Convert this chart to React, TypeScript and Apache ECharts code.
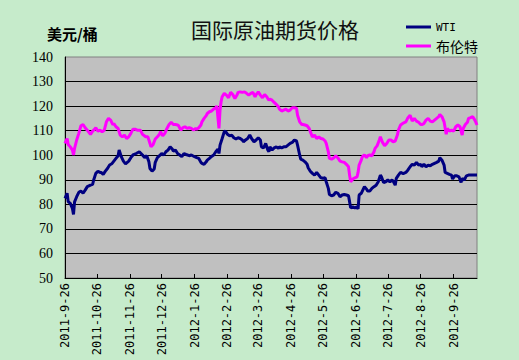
import React, { useEffect, useRef } from "react";
import * as echarts from "echarts";

// Axis: one category per calendar day starting 2011-9-26 (389 days, to 2012-10-18)
const startDate = [2011, 9, 26];
const dayCount = 389;
const tickLabels = [
  "2011-9-26", "2011-10-26", "2011-11-26", "2011-12-26", "2012-1-26", "2012-2-26",
  "2012-3-26", "2012-4-26", "2012-5-26", "2012-6-26", "2012-7-26", "2012-8-26", "2012-9-26",
];
const yMin = 50;
const yMax = 140;
const yStep = 10;

// WTI: day offset from 2011-9-26, price (USD/bbl)
const wtiDays = [
  0, 2, 3, 5, 7, 8, 9, 11, 13, 15, 17, 19, 21, 24, 26, 27, 29, 31, 33, 34, 36, 38, 40, 42, 44, 46, 48, 50, 51, 53, 55, 57, 60, 62, 64,
  67, 70, 73, 75, 77, 79, 80, 82, 84, 85, 87, 89, 91, 93, 95, 97, 99, 101, 102, 104, 106, 108, 110, 112, 114, 117, 119, 122, 124, 126, 128,
  129, 131, 133, 134, 136, 138, 140, 142, 144, 145, 146, 148, 150, 151, 153, 155, 157, 159, 161, 163, 165, 167, 168, 170, 172, 174, 176, 178, 180, 182, 184, 185, 187, 189, 191, 192,
  193, 195, 197, 199, 201, 202, 204, 206, 208, 210, 212, 214, 216, 218, 219, 221, 222, 224, 226, 228, 229, 231, 233, 235, 237, 239, 241, 243, 245, 246, 248, 249, 251, 253, 255, 257,
  259, 261, 263, 265, 267, 268, 269, 271, 273, 275, 276, 277, 279, 280, 282, 284, 285, 287, 289, 291, 293, 295, 297, 298, 300, 302, 304, 306, 308, 309, 311, 312, 314, 316, 318, 319, 321,
  323, 325, 327, 329, 331, 333, 335, 336, 338, 340, 342, 344, 346, 348, 350, 352, 353, 355, 357, 358, 360, 362, 364, 365, 367, 369, 371, 373, 374, 376, 378, 380, 382, 384, 388,
];
const wtiPrices = [
  82.4, 84.5, 81.1, 80.4, 78.3, 75.9, 81.0, 83.1, 84.9, 85.4, 84.5, 85.8, 87.2, 87.8, 88.1, 89.9, 92.6, 93.5, 93.0, 93.0, 92.2, 93.5, 94.6, 96.0, 96.5, 97.6, 98.7, 99.8, 102.1, 99.4, 97.6, 96.5, 97.6, 99.0, 100.1,
  100.7, 101.4, 100.1, 99.0, 99.8, 97.3, 94.6, 93.5, 94.4, 97.1, 99.0, 99.8, 100.7, 100.1, 101.4, 102.1, 103.4, 102.5, 101.7, 102.1, 100.7, 100.1, 99.4, 100.7, 100.3, 99.8, 100.1, 99.4, 99.0, 98.7, 97.1,
  96.7, 96.3, 97.3, 98.0, 98.7, 99.5, 100.1, 101.4, 102.5, 100.7, 104.1, 106.8, 109.6, 109.8, 108.5, 107.9, 108.2, 107.1, 106.6, 107.1, 106.8, 106.2, 105.5, 106.2, 106.8, 108.2, 106.6, 105.5, 106.2, 107.1, 106.2, 103.4, 103.0, 104.8, 102.1, 101.4,
  103.4, 102.1, 103.0, 103.4, 102.8, 103.4, 103.0, 103.4, 103.4, 104.1, 104.8, 105.2, 106.2, 105.8, 104.1, 100.1, 98.4, 98.0, 97.3, 96.3, 94.9, 93.5, 92.6, 91.9, 93.0, 91.9, 90.8, 90.6, 90.8, 89.2, 86.5, 84.0, 83.5, 83.8, 84.9, 84.5,
  83.1, 83.8, 84.0, 83.8, 83.5, 81.1, 78.6, 79.0, 78.6, 79.0, 78.1, 83.8, 84.5, 85.4, 87.2, 86.2, 85.4, 85.4, 86.5, 87.2, 87.8, 89.2, 91.9, 91.2, 88.9, 89.2, 89.9, 89.2, 89.9, 89.5, 87.8, 90.6, 91.9, 93.0, 92.6, 92.6, 93.0,
  94.0, 95.3, 96.3, 96.0, 97.1, 96.0, 96.3, 95.3, 96.3, 95.3, 96.0, 95.7, 96.3, 96.7, 97.1, 97.6, 99.0, 98.0, 96.0, 93.0, 92.6, 92.2, 91.9, 90.3, 91.6, 91.6, 91.2, 88.9, 90.6, 89.9, 91.6, 91.9, 91.9, 91.9, 91.9,
];

// Brent: day offset from 2011-9-26, price (USD/bbl)
const brentDays = [
  0, 2, 3, 5, 7, 8, 9, 11, 13, 15, 17, 19, 21, 22, 24, 26, 28, 29, 31, 33, 35, 37, 39, 41, 43, 45, 46, 48, 50, 52, 54, 56, 58, 60, 62, 64,
  66, 68, 71, 73, 76, 78, 79, 81, 83, 85, 87, 89, 90, 92, 94, 96, 98, 100, 102, 104, 106, 107, 109, 111, 113, 115, 117, 119, 121, 123, 124, 126, 128,
  129, 131, 133, 134, 136, 138, 140, 142, 143, 145, 146, 147, 148, 150, 152, 154, 156, 158, 160, 162, 163, 165, 167, 169, 171, 173, 175, 177, 179, 180, 182, 184, 186, 188, 190, 192,
  193, 195, 197, 199, 201, 202, 204, 206, 208, 210, 212, 214, 216, 218, 219, 221, 223, 224, 226, 228, 230, 231, 233, 235, 237, 239, 241, 243, 245, 246, 248, 249, 251, 253, 255, 257,
  259, 261, 263, 265, 267, 268, 269, 271, 273, 275, 276, 277, 279, 280, 282, 284, 285, 287, 289, 291, 292, 294, 296, 297, 299, 301, 303, 305, 307, 309, 311, 313, 314, 316, 318, 320,
  321, 323, 325, 327, 329, 331, 333, 335, 336, 338, 340, 342, 344, 346, 348, 350, 352, 353, 355, 357, 359, 360, 362, 364, 366, 368, 370, 372, 374, 375, 377, 379, 380, 382, 384, 386, 388,
];
const brentPrices = [
  104.8, 106.8, 104.4, 103.4, 102.1, 100.1, 102.8, 106.2, 108.9, 112.0, 112.5, 111.2, 110.2, 109.6, 108.5, 109.8, 110.6, 111.2, 109.8, 110.2, 109.6, 110.2, 113.6, 115.0, 114.3, 112.5, 112.9, 111.6, 110.9, 108.2, 107.5, 108.2, 106.8, 107.5, 108.9, 110.6,
  110.6, 110.2, 110.2, 108.5, 107.5, 107.5, 106.2, 103.4, 104.4, 106.6, 107.5, 108.5, 109.6, 107.9, 108.9, 110.9, 112.5, 113.4, 112.5, 112.5, 112.3, 112.0, 110.2, 111.2, 111.6, 110.9, 111.2, 110.9, 110.2, 110.9, 110.6, 111.2, 112.3,
  113.6, 115.0, 116.1, 117.0, 117.7, 118.0, 118.8, 119.3, 120.1, 110.9, 118.4, 121.8, 123.8, 125.2, 124.5, 123.4, 125.6, 124.7, 123.1, 124.5, 125.6, 125.8, 125.6, 125.8, 125.2, 124.5, 125.2, 125.6, 123.8, 124.7, 125.8, 124.5, 123.4, 124.7, 123.8, 122.4,
  122.8, 122.4, 121.5, 120.7, 119.7, 118.8, 118.0, 118.4, 118.8, 118.0, 118.4, 119.3, 119.3, 119.1, 116.3, 113.6, 112.5, 112.5, 112.3, 112.0, 110.9, 109.6, 107.5, 108.2, 106.8, 107.5, 106.8, 106.6, 105.8, 104.8, 101.4, 98.7, 98.4, 98.9, 99.8, 98.9,
  97.6, 97.3, 97.1, 96.3, 95.3, 91.9, 89.2, 90.3, 90.8, 91.2, 93.0, 96.0, 98.0, 99.4, 100.1, 99.0, 99.8, 100.1, 99.8, 101.4, 102.8, 103.9, 106.2, 107.5, 105.2, 103.9, 104.8, 106.2, 106.2, 105.5, 105.8, 108.2, 110.2, 112.3, 112.9, 113.4,
  113.6, 115.3, 116.3, 113.9, 115.0, 113.9, 113.4, 112.5, 112.5, 112.9, 114.3, 115.0, 113.9, 113.6, 114.3, 115.0, 115.7, 116.6, 115.7, 113.6, 108.5, 110.9, 109.8, 110.2, 109.8, 111.6, 112.3, 111.6, 108.2, 110.9, 112.5, 113.4, 115.0, 115.3, 115.7, 114.3, 112.3,
];

const seriesNames = ["WTI", "布伦特"];
const titleText = "国际原油期货价格";
const unitText = "美元/桶";

function buildCategories(): string[] {
  const out: string[] = [];
  for (let i = 0; i < dayCount; i++) {
    const d = new Date(Date.UTC(startDate[0], startDate[1] - 1, startDate[2] + i));
    out.push(`${d.getUTCFullYear()}-${d.getUTCMonth() + 1}-${d.getUTCDate()}`);
  }
  return out;
}

export default function App() {
  const ref = useRef<HTMLDivElement>(null);
  useEffect(() => {
    if (!ref.current) return;
    const chart = echarts.init(ref.current, undefined, { renderer: "svg" });
    const categories = buildCategories();
    const showTick = (_i: number, v: string) => tickLabels.indexOf(v) >= 0;
    chart.setOption({
      animation: false,
      backgroundColor: "#C6EBCB",
      graphic: [
        {
          type: "text",
          x: 275,
          y: 29,
          style: {
            text: titleText,
            fontSize: 21,
            fontFamily: "Noto Sans CJK SC",
            fill: "#111",
            align: "center",
            verticalAlign: "middle",
          },
        },
        {
          type: "text",
          x: 47,
          y: 33,
          style: {
            text: unitText,
            fontSize: 15,
            fontWeight: "bold",
            fontFamily: "Noto Sans CJK SC",
            fill: "#000",
            align: "left",
            verticalAlign: "middle",
          },
        },
      ],
      legend: {
        orient: "vertical",
        left: 401,
        top: 14,
        icon: "rect",
        itemWidth: 25,
        itemHeight: 3,
        itemGap: 3,
        selectedMode: false,
        data: seriesNames,
        formatter: (n: string) => (n === "WTI" ? "{m|WTI}" : n),
        textStyle: {
          fontSize: 14,
          lineHeight: 16,
          color: "#000",
          fontFamily: "Noto Sans CJK SC",
          rich: {
            m: { fontFamily: "DejaVu Sans Mono", fontSize: 11, lineHeight: 16, color: "#000" },
          },
        },
      },
      grid: {
        left: 65,
        right: 42,
        top: 57,
        bottom: 82,
        show: true,
        backgroundColor: "#C0C0C0",
        borderColor: "#808080",
        borderWidth: 1,
      },
      xAxis: {
        type: "category",
        data: categories,
        boundaryGap: false,
        axisLine: { lineStyle: { color: "#000", width: 1 } },
        axisTick: {
          show: true,
          inside: true,
          length: 4,
          interval: showTick,
          lineStyle: { color: "#000" },
        },
        axisLabel: {
          interval: showTick,
          rotate: 90,
          margin: 5,
          fontFamily: "DejaVu Sans Mono",
          fontSize: 12,
          color: "#000",
        },
        splitLine: { show: false },
      },
      yAxis: {
        type: "value",
        min: yMin,
        max: yMax,
        interval: yStep,
        axisLine: { show: true, lineStyle: { color: "#000", width: 1 } },
        axisTick: { show: false },
        axisLabel: {
          margin: 12,
          fontFamily: "Liberation Serif",
          fontSize: 14,
          color: "#000",
        },
        splitLine: { show: true, showMaxLine: false, lineStyle: { color: "#000", width: 1 } },
      },
      series: [
        {
          name: seriesNames[0],
          type: "line",
          data: wtiDays.map((d, i) => [d, wtiPrices[i]]),
          showSymbol: false,
          symbol: "none",
          lineStyle: { color: "#000080", width: 3 },
          itemStyle: { color: "#000080" },
        },
        {
          name: seriesNames[1],
          type: "line",
          data: brentDays.map((d, i) => [d, brentPrices[i]]),
          showSymbol: false,
          symbol: "none",
          lineStyle: { color: "#FF00FF", width: 3 },
          itemStyle: { color: "#FF00FF" },
        },
      ],
    });
    return () => chart.dispose();
  }, []);
  return (
    <div
      ref={ref}
      style={{ position: "absolute", left: 0, top: 0, width: 519, height: 360 }}
    />
  );
}
